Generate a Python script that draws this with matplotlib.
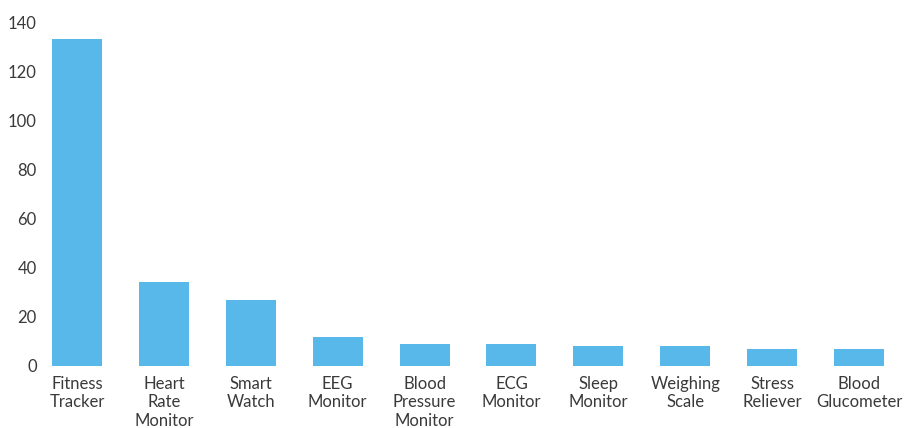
import matplotlib
matplotlib.use("Agg")
import matplotlib.pyplot as plt

categories = ["Fitness\nTracker", "Heart\nRate\nMonitor", "Smart\nWatch", "EEG\nMonitor",
              "Blood\nPressure\nMonitor", "ECG\nMonitor", "Sleep\nMonitor", "Weighing\nScale",
              "Stress\nReliever", "Blood\nGlucometer"]
values = [133, 34, 27, 12, 9, 9, 8, 8, 7, 7]
yticks = [0, 20, 40, 60, 80, 100, 120, 140]

W, H = 907, 428
fig = plt.figure(figsize=(W / 100, H / 100), dpi=100)
left, right, top, bottom = 45, 895, 22, 366
ax = fig.add_axes([left / W, 1 - bottom / H, (right - left) / W, (bottom - top) / H])

x = list(range(len(categories)))
ax.bar(x, values, width=0.575, color="#58B8EA")
ax.set_xlim(-0.368, 9.414)
ax.set_ylim(0, 140)
ax.set_yticks(yticks)
ax.set_xticks(x)
ax.set_xticklabels(categories, linespacing=1.2)
for s in ax.spines.values():
    s.set_visible(False)
ax.tick_params(axis="both", length=0, labelsize=12, labelcolor="#3a3a3a")
ax.tick_params(axis="x", pad=7)
ax.tick_params(axis="y", pad=6)
for lab in ax.get_xticklabels() + ax.get_yticklabels():
    lab.set_family("Lato")

fig.savefig("out.png", dpi=100)
